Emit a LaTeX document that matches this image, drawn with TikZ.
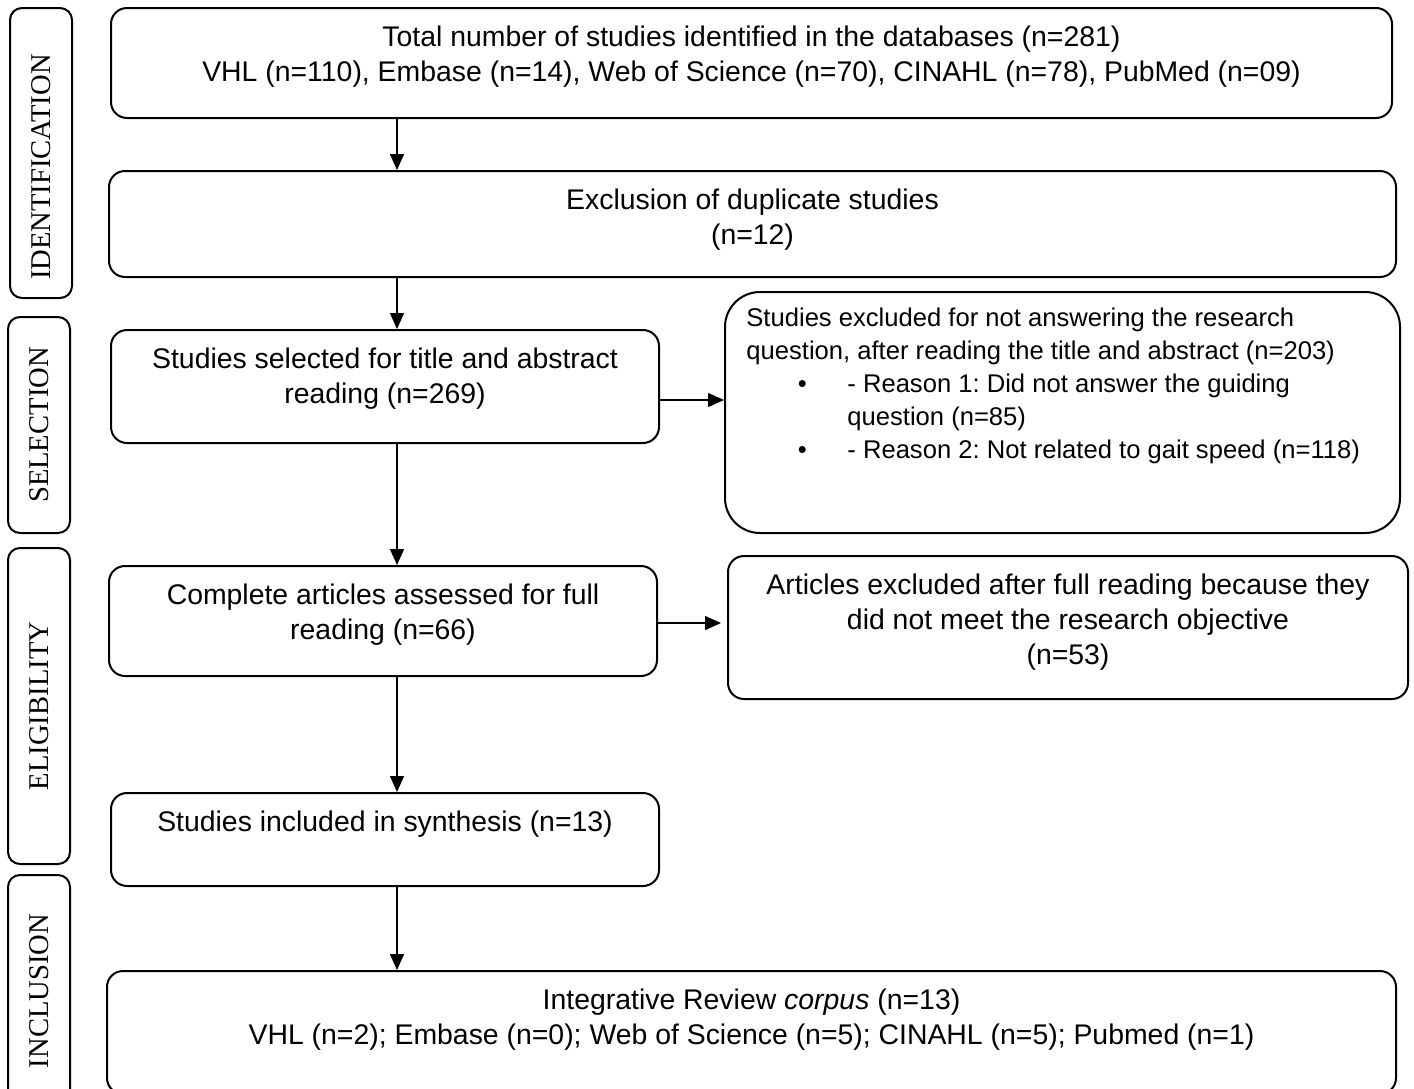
\documentclass[tikz,border=0pt]{standalone}
\usepackage{fontspec}
\setmainfont{Liberation Sans}
\newfontfamily\stagefont{Liberation Serif}
\usepackage{tikz}
\usetikzlibrary{arrows.meta,positioning}
\frenchspacing
\newcommand{\reasonbullet}{\makebox[50.5pt][l]{\hspace{25.7pt}\textbullet}}

\begin{document}
\begin{tikzpicture}[x=0.5pt,y=-0.5pt]
	\clip (0,0) rectangle (1414,1088);
	\fill[white] (0,0) rectangle (1414,1088);

	\begin{scope}[every node/.style={draw,line width=1pt,rounded corners=6pt,rotate=90,minimum height=31pt,inner sep=0pt,font=\fontsize{14.3}{16}\stagefont}]
		\node[minimum width=145pt] (lid) at (41,153) {IDENTIFICATION\hspace*{14pt}};
		\node[minimum width=108pt] (lsel) at (39,425) {SELECTION};
		\node[minimum width=158pt] (lel) at (39,706) {ELIGIBILITY};
		\node[minimum width=116pt] (linc) at (39,991) {INCLUSION};
	\end{scope}

	\begin{scope}[every node/.style={draw,line width=1pt,rounded corners=8pt,inner sep=0pt}]
		\node[minimum width=640.5pt,minimum height=55pt] (ident) at (751.5,63) {};
		\node[minimum width=643.5pt,minimum height=53pt] (dup) at (752.5,224) {};
		\node[minimum width=274pt,minimum height=56.5pt] (screen) at (385,386.5) {};
		\node[minimum width=337.5pt,minimum height=120.5pt,rounded corners=17.5pt] (excl) at (1062.5,412.5) {};
		\node[minimum width=274pt,minimum height=55pt] (full) at (383,621) {};
		\node[minimum width=340pt,minimum height=71.5pt] (exfull) at (1068,627.5) {};
		\node[minimum width=274pt,minimum height=46.5pt] (synth) at (385,839.5) {};
		\node[minimum width=644.5pt,minimum height=61.5pt] (corpus) at (751.5,1032.5) {};
	\end{scope}

	\begin{scope}[every node/.style={inner sep=0pt,anchor=north,align=center,font=\fontsize{14.2}{17.5}\selectfont}]
		\node (tident) at ([yshift=-9.5pt]ident.north) {Total number of studies identified in the databases (n=281)\\VHL (n=110), Embase (n=14), Web of Science (n=70), CINAHL (n=78), PubMed (n=09)};
		\node (tdup) at ([yshift=-9.5pt]dup.north) {Exclusion of duplicate studies\\(n=12)};
		\node (tscreen) at ([yshift=-9.5pt]screen.north) {Studies selected for title and abstract\\reading (n=269)};
		\node[anchor=north west,align=left,font=\fontsize{12.8}{16.4}\selectfont] (texcl) at ([xshift=11pt,yshift=-8.5pt]excl.north west) {Studies excluded for not answering the research\\question, after reading the title and abstract (n=203)\\\reasonbullet- Reason 1: Did not answer the guiding\\\hspace*{50.5pt}question (n=85)\\\reasonbullet- Reason 2: Not related to gait speed (n=118)};
		\node (tfull) at ([yshift=-9.5pt]full.north) {Complete articles assessed for full\\reading (n=66)};
		\node (texfull) at ([yshift=-9.5pt]exfull.north) {Articles excluded after full reading because they\\did not meet the research objective\\(n=53)};
		\node (tsynth) at ([yshift=-9.5pt]synth.north) {Studies included in synthesis (n=13)};
		\node (tcorpus) at ([yshift=-9.5pt]corpus.north) {Integrative Review \textit{corpus} (n=13)\\VHL (n=2); Embase (n=0); Web of Science (n=5); CINAHL (n=5); Pubmed (n=1)};
	\end{scope}

	\coordinate (ax) at (397,0);
	\coordinate (ra) at (0,400);
	\coordinate (rb) at (0,623);
	\begin{scope}[>={Triangle[length=8pt,width=7pt]},line width=0.7pt]
		\draw[->] (ident.south -| ax) -- (dup.north -| ax);
		\draw[->] (dup.south -| ax) -- (screen.north -| ax);
		\draw[->] (screen.south -| ax) -- (full.north -| ax);
		\draw[->] (full.south -| ax) -- (synth.north -| ax);
		\draw[->] (synth.south -| ax) -- (corpus.north -| ax);
		\draw[->] (screen.east |- ra) -- (excl.west |- ra);
		\draw[->,shorten >=3pt] (full.east |- rb) -- (exfull.west |- rb);
	\end{scope}
\end{tikzpicture}
\end{document}
